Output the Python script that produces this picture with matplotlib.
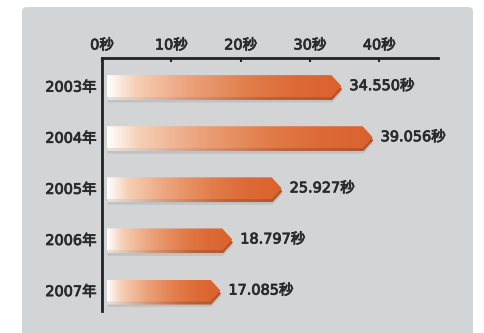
import numpy as np
import matplotlib
matplotlib.use("Agg")
import matplotlib.pyplot as plt
import matplotlib.patheffects as pe
from matplotlib.colors import LinearSegmentedColormap
from matplotlib.patches import Polygon, FancyBboxPatch

plt.rcParams["font.family"] = ["DejaVu Sans", "Noto Sans CJK JP"]

years = ["2003年", "2004年", "2005年", "2006年", "2007年"]
seconds = [34.550, 39.056, 25.927, 18.797, 17.085]
xticks = [0, 10, 20, 30, 40]
xtick_labels = ["0秒", "10秒", "20秒", "30秒", "40秒"]

W, H = 484, 333
PX = 6.93  # pixels per second on the x axis
FS = 10.4
TXT = "#2A2A2A"
SEMI = [pe.withStroke(linewidth=0.6, foreground=TXT)]

face_cmap = LinearSegmentedColormap.from_list(
    "face", [(0, "#FFFFFF"), (0.12, "#F6CFB6"), (0.35, "#EBA27B"),
             (0.6, "#E27D4B"), (0.8, "#DD6A36"), (1, "#DB622D")])
edge_cmap = LinearSegmentedColormap.from_list(
    "edge", ["#E6E3E0", "#D49A7C", "#BF6339", "#B4532A"])

fig = plt.figure(figsize=(W / 100, H / 100), dpi=100)
fig.patch.set_facecolor("white")
panel = FancyBboxPatch((22 / W, -0.05), 451 / W, 1.05 - 7 / H,
                       boxstyle="round,pad=0,rounding_size=0.012",
                       transform=fig.transFigure, facecolor="#D3D4D6",
                       edgecolor="none", zorder=-10)
fig.add_artist(panel)

ax = fig.add_axes([102 / W, 1 - 311 / H, 336 / W, 253 / H])
ax.set_facecolor("none")

grad = np.linspace(0, 1, 256).reshape(1, -1)
x0 = 5 / PX        # bar starts a few pixels right of the axis
tip = 10 / PX      # depth of the arrow point
h = 0.43           # bar face height (category units)
drop = 3 / 51.1    # thickness of lower edge strip

for i, v in enumerate(seconds):
    top, bot = i - h / 2, i + h / 2

    # soft shadow
    sh = Polygon([(x0 + 0.1, top + drop * 1.8), (v - tip + 0.1, top + drop * 1.8),
                  (v + 0.1, i + drop * 1.8), (v - tip + 0.1, bot + drop * 1.8),
                  (x0 + 0.1, bot + drop * 1.8)],
                 closed=True, facecolor="#A9AAAD", edgecolor="none",
                 alpha=0.45, zorder=1)
    ax.add_patch(sh)

    # lower edge strip
    ep = Polygon([(x0 + 0.1, top + drop), (v - tip + 0.1, top + drop),
                  (v + 0.1, i + drop), (v - tip + 0.1, bot + drop),
                  (x0 + 0.1, bot + drop)],
                 closed=True, facecolor="none", edgecolor="none")
    ax.add_patch(ep)
    im = ax.imshow(grad, cmap=edge_cmap, aspect="auto", zorder=2,
                   extent=[x0, v + 0.2, bot + drop, top], interpolation="bilinear")
    im.set_clip_path(ep)

    # face
    fp = Polygon([(x0, top), (v - tip, top), (v, i), (v - tip, bot), (x0, bot)],
                 closed=True, facecolor="none", edgecolor="none")
    ax.add_patch(fp)
    im = ax.imshow(grad, cmap=face_cmap, aspect="auto", zorder=3,
                   extent=[x0, v, bot, top], interpolation="bilinear")
    im.set_clip_path(fp)

    ax.text(v + 8 / PX, i, f"{v:.3f}秒", va="center", ha="left",
            fontsize=FS, color=TXT, path_effects=SEMI)

ax.set_xlim(0, 336 / PX)
ax.set_ylim(4.40, -0.55)

ax.xaxis.tick_top()
ax.set_xticks(xticks)
ax.set_xticklabels(xtick_labels, fontsize=FS, color=TXT)
ax.tick_params(axis="x", direction="in", length=3, width=1.5, color="#222222", pad=4)
ax.set_yticks(range(len(years)))
ax.set_yticklabels(years, fontsize=FS, color=TXT)
ax.tick_params(axis="y", length=0, pad=4)
for lab in ax.get_xticklabels() + ax.get_yticklabels():
    lab.set_path_effects(SEMI)

for s in ["right", "bottom"]:
    ax.spines[s].set_visible(False)
for s in ["top", "left"]:
    ax.spines[s].set_linewidth(2)
    ax.spines[s].set_color("#222222")

fig.savefig("out.png", dpi=100)
